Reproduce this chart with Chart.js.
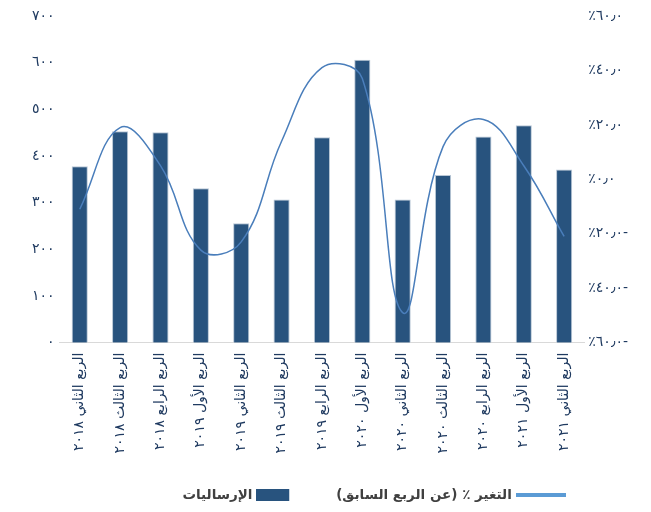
<!DOCTYPE html>
<html lang="ar">
<head>
<meta charset="utf-8">
<script src="https://cdn.jsdelivr.net/npm/chart.js@4/dist/chart.umd.min.js"></script>
<style>
  html, body { margin: 0; padding: 0; background: #fff; }
  #wrap { width: 651px; height: 512px; }
</style>
</head>
<body>
<div id="wrap"><canvas id="chart"></canvas></div>
<script>
// الفئات (الأرباع)
const quarters = [
    'الربع الثاني ٢٠١٨', 'الربع الثالث ٢٠١٨', 'الربع الرابع ٢٠١٨',
    'الربع الأول ٢٠١٩', 'الربع الثاني ٢٠١٩', 'الربع الثالث ٢٠١٩', 'الربع الرابع ٢٠١٩',
    'الربع الأول ٢٠٢٠', 'الربع الثاني ٢٠٢٠', 'الربع الثالث ٢٠٢٠', 'الربع الرابع ٢٠٢٠',
    'الربع الأول ٢٠٢١', 'الربع الثاني ٢٠٢١'
];

// الإرساليات
const shipments = [378, 453, 451, 331, 256, 307, 440, 606, 307, 359, 442, 466, 371];

// التغير ٪ عن الربع السابق
const changePct = [-11, 19, 5, -26, -23, 14, 41, 37, -49, 12, 22, 5, -21];

// تسميات المحاور
const shipmentTickValues = [0, 100, 200, 300, 400, 500, 600, 700];
const shipmentTickLabels = ['٠', '١٠٠', '٢٠٠', '٣٠٠', '٤٠٠', '٥٠٠', '٦٠٠', '٧٠٠'];
const changeTickValues = [-60, -40, -20, 0, 20, 40, 60];
const changeTickLabels = ['٪٦٠٫٠-', '٪٤٠٫٠-', '٪٢٠٫٠-', '٪٠٫٠', '٪٢٠٫٠', '٪٤٠٫٠', '٪٦٠٫٠'];

const legendNames = ['التغير ٪ (عن الربع السابق)', 'الإرساليات'];

const barColor = '#28537e';
const lineColor = '#4a7ebb';
const textColor = '#1f3a60';
const font = "'DejaVu Sans', 'Noto Sans', sans-serif";

// رموز وسيلة الإيضاح (الرمز بجانب النص من اليسار)
function swatch(w, h, fillW, color) {
    const c = document.createElement('canvas');
    c.width = w;
    c.height = h;
    const g = c.getContext('2d');
    g.fillStyle = color;
    g.fillRect(0, 0, fillW, h);
    return c;
}
const lineSwatch = swatch(50, 4, 50, '#5b9bd5');
const barSwatch = swatch(50, 12, 33, barColor);

// وسيلة الإيضاح في الأصل مزاحة قليلا نحو اليمين
const legendShift = {
    id: 'legendShift',
    afterLayout(chart) {
        chart.legend.left += 43;
        chart.legend.right += 43;
    }
};

new Chart(document.getElementById('chart'), {
    type: 'bar',
    data: {
        labels: quarters,
        datasets: [{
            type: 'line',
            label: legendNames[0],
            data: changePct,
            yAxisID: 'y1',
            borderColor: lineColor,
            borderWidth: 1.5,
            pointRadius: 0,
            tension: 0.4,
            fill: false,
            order: 0
        }, {
            label: legendNames[1],
            data: shipments,
            yAxisID: 'y',
            backgroundColor: barColor,
            borderColor: '#b9c7d6',
            borderWidth: 1,
            barPercentage: 0.8,
            categoryPercentage: 0.5,
            order: 1
        }]
    },
    plugins: [legendShift],
    options: {
        responsive: true,
        maintainAspectRatio: false,
        animation: false,
        layout: { padding: { left: 27, right: 19, top: 16, bottom: 0 } },
        plugins: {
            tooltip: { enabled: false },
            legend: {
                position: 'bottom',
                rtl: true,
                labels: {
                    usePointStyle: true,
                    pointStyleWidth: 44,
                    padding: 33,
                    color: '#404040',
                    font: { family: font, size: 13.5, weight: 'bold' },
                    generateLabels: function (chart) {
                        return chart.data.datasets.map(function (ds, i) {
                            return {
                                text: ds.label,
                                pointStyle: i === 0 ? lineSwatch : barSwatch,
                                fillStyle: i === 0 ? '#5b9bd5' : barColor,
                                strokeStyle: 'transparent',
                                lineWidth: 0,
                                fontColor: '#404040',
                                datasetIndex: i
                            };
                        });
                    }
                }
            }
        },
        scales: {
            x: {
                grid: { display: false },
                border: { display: true, color: '#d9d9d9' },
                ticks: {
                    color: textColor,
                    font: { family: font, size: 14 },
                    minRotation: 90,
                    maxRotation: 90,
                    autoSkip: false,
                    padding: 2
                }
            },
            y: {
                position: 'left',
                min: 0,
                max: 700,
                grid: { display: false, drawTicks: false },
                border: { display: false },
                afterBuildTicks: function (axis) {
                    axis.ticks = shipmentTickValues.map(v => ({ value: v }));
                },
                ticks: {
                    color: textColor,
                    font: { family: font, size: 14 },
                    padding: 5,
                    callback: function (v) {
                        return shipmentTickLabels[shipmentTickValues.indexOf(v)];
                    }
                }
            },
            y1: {
                position: 'right',
                min: -60,
                max: 60,
                grid: { display: false, drawTicks: false },
                border: { display: false },
                afterBuildTicks: function (axis) {
                    axis.ticks = changeTickValues.map(v => ({ value: v }));
                },
                ticks: {
                    color: textColor,
                    font: { family: font, size: 14 },
                    padding: 4,
                    callback: function (v) {
                        return changeTickLabels[changeTickValues.indexOf(v)];
                    }
                }
            }
        }
    }
});
</script>
</body>
</html>
